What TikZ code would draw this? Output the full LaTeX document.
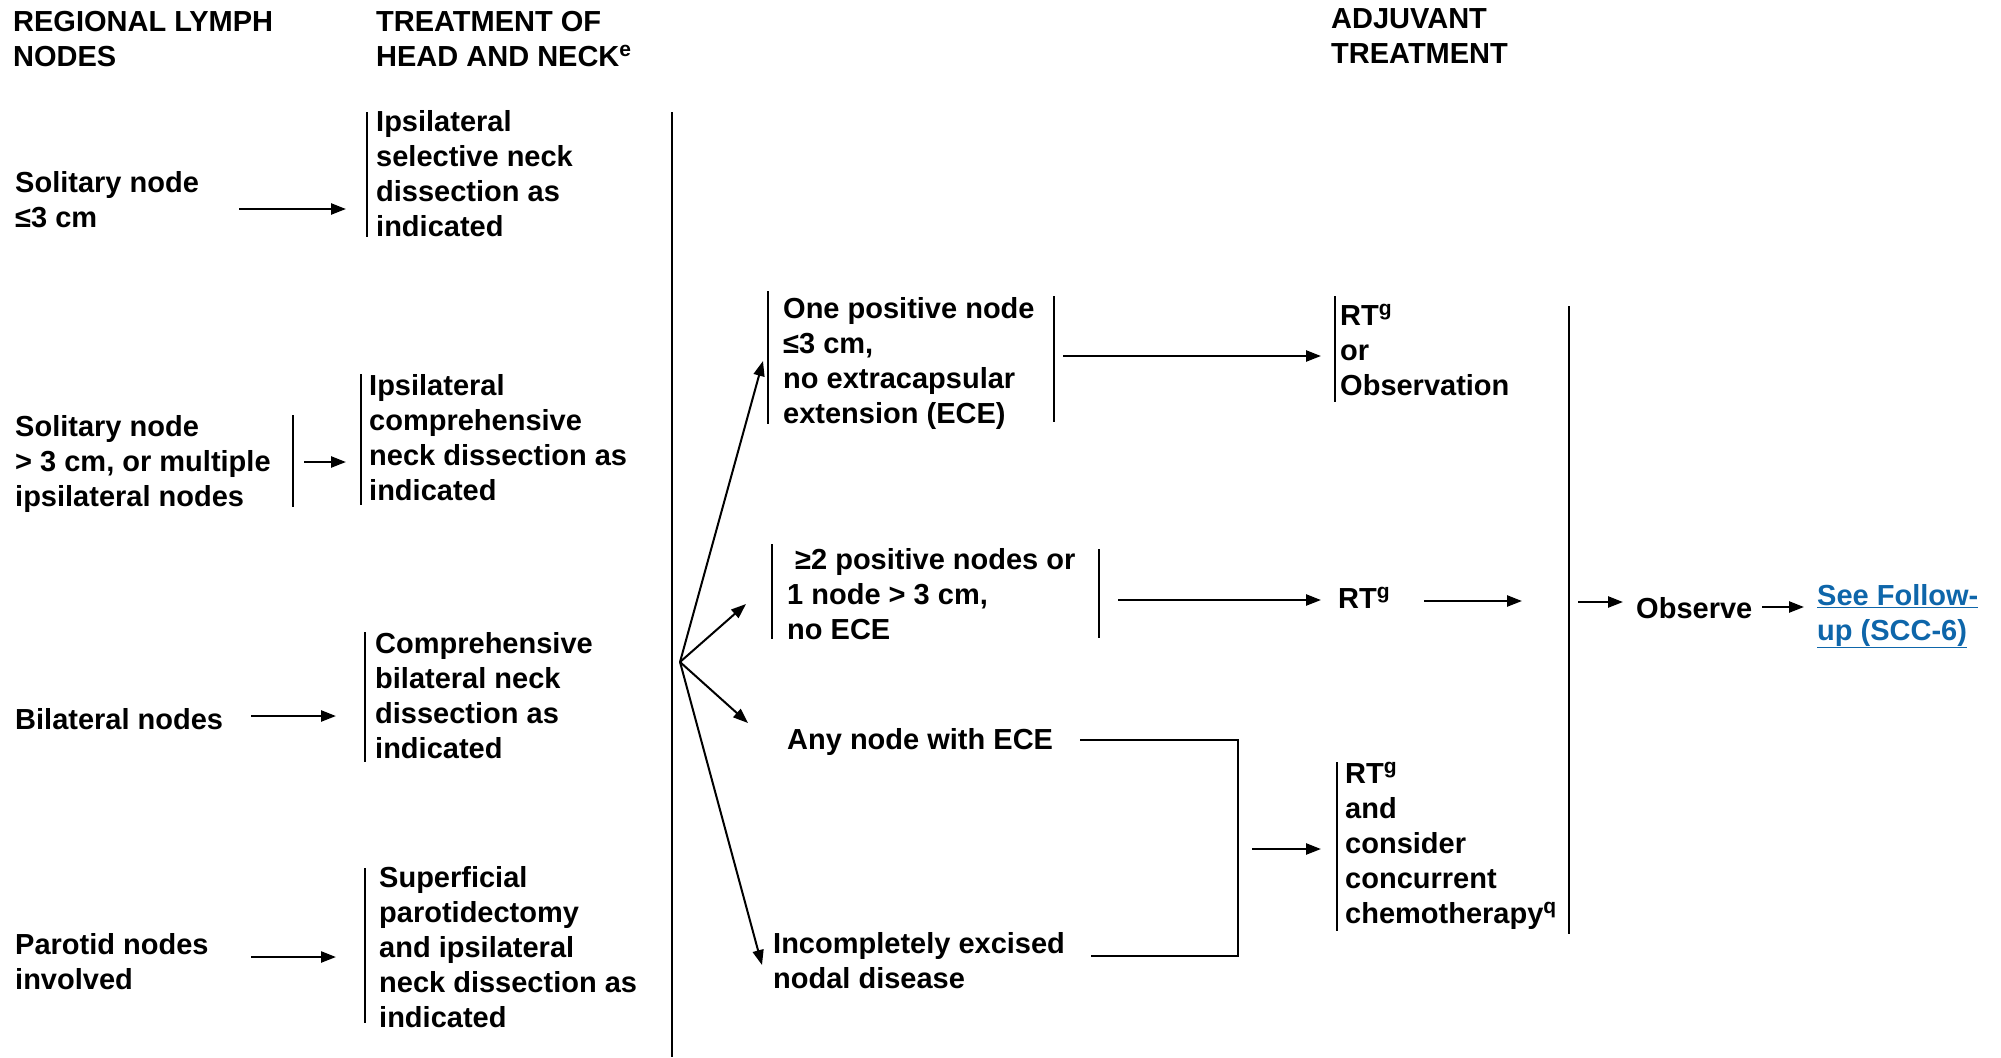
\documentclass[tikz,border=0pt]{standalone}
\usepackage{fontspec}
\setmainfont{Liberation Sans}
\usetikzlibrary{arrows.meta}
\definecolor{linkblue}{RGB}{14,102,170}
\newcommand\fsz{\fontsize{29}{35}\selectfont}
\newcommand\supr[1]{\raisebox{0.36em}{\fontsize{21}{21}\selectfont #1}}
\begin{document}
\begin{tikzpicture}[x=1pt,y=-1pt,
  txt/.style={anchor=north west, inner sep=0pt, align=left, yshift=-4pt, font=\fsz\bfseries, execute at begin node=\strut},
  barline/.style={line width=2.5pt},
  arr/.style={line width=2.4pt, -{Triangle[length=15pt,width=11pt]}},
  fanarr/.style={line width=2pt, -{Triangle[length=15pt,width=11pt]}},
  link/.style={txt, text=linkblue}]
\useasboundingbox[fill=white] (0,0) rectangle (2001,1057);

% headers
\node[txt] (h1) at (13,7) {REGIONAL LYMPH\\NODES};
\node[txt] (h2) at (376,7) {TREATMENT OF\\HEAD AND NECK\supr{e}};
\node[txt] (h3) at (1331,4) {ADJUVANT\\TREATMENT};

% left column
\node[txt] (s1) at (15,167) {Solitary node\\≤3 cm};
\node[txt] (t1) at (376,106) {Ipsilateral\\selective neck\\dissection as\\indicated};
\node[txt] (s2) at (15,411) {Solitary node\\> 3 cm, or multiple\\ipsilateral nodes};
\node[txt] (t2) at (369,370) {Ipsilateral\\comprehensive\\neck dissection as\\indicated};
\node[txt] (s3) at (15,701) {Bilateral nodes};
\node[txt] (t3) at (375,628) {Comprehensive\\bilateral neck\\dissection as\\indicated};
\node[txt] (s4) at (15,929) {Parotid nodes\\involved};
\node[txt] (t4) at (379,862) {Superficial\\parotidectomy\\and ipsilateral\\neck dissection as\\indicated};

% middle column
\node[txt] (m1) at (783,293) {One positive node\\≤3 cm,\\no extracapsular\\extension (ECE)};
\node[txt] (m2) at (787,544) {\hspace*{8pt}≥2 positive nodes or\\1 node > 3 cm,\\no ECE};
\node[txt] (m3) at (787,721) {Any node with ECE};
\node[txt] (m4) at (773,928) {Incompletely excised\\nodal disease};

% adjuvant column
\node[txt] (a1) at (1340,300) {RT\supr{g}\\or\\Observation};
\node[txt] (a2) at (1338,580) {RT\supr{g}};
\node[txt] (a3) at (1345,758) {RT\supr{g}\\and\\consider\\concurrent\\chemotherapy\supr{q}};
\node[txt] (obs) at (1636,590) {Observe};
\node[link] (lk) at (1817,580) {\underline{See Follow-}\\\underline{up (SCC-6)}};

% bars
\draw[barline] (367,112) -- (367,237);
\draw[barline] (293,415) -- (293,507);
\draw[barline] (361,374) -- (361,505);
\draw[barline] (365,632) -- (365,762);
\draw[barline] (365,868) -- (365,1023);
\draw[barline] (672,112) -- (672,1057);
\draw[barline] (768,291) -- (768,424);
\draw[barline] (1054,296) -- (1054,422);
\draw[barline] (772,544) -- (772,639);
\draw[barline] (1099,549) -- (1099,638);
\draw[barline] (1335,296) -- (1335,402);
\draw[barline] (1337,762) -- (1337,931);
\draw[barline] (1569,306) -- (1569,934);

% arrow end points
\coordinate (s1o) at (239,209); \coordinate (t1i) at (346,209);
\coordinate (s2o) at (304,462); \coordinate (t2i) at (346,462);
\coordinate (s3o) at (251,716); \coordinate (t3i) at (336,716);
\coordinate (s4o) at (251,957); \coordinate (t4i) at (336,957);
\coordinate (m1o) at (1063,356); \coordinate (a1i) at (1321,356);
\coordinate (m2o) at (1118,600); \coordinate (a2i) at (1321,600);
\coordinate (a2o) at (1424,601); \coordinate (a2e) at (1522,601);
\coordinate (jo) at (1252,849); \coordinate (a3i) at (1321,849);
\coordinate (ro) at (1578,602); \coordinate (obsi) at (1623,602);
\coordinate (obso) at (1762,607); \coordinate (lki) at (1804,607);
\coordinate (fan) at (680,662);
\coordinate (f1) at (763,361); \coordinate (f2) at (746,604);
\coordinate (f3) at (748,723); \coordinate (f4) at (762,965);
\coordinate (e1) at (1080,740); \coordinate (e2) at (1238,740);
\coordinate (e3) at (1238,956); \coordinate (e4) at (1091,956);

\draw[arr] (s1o) -- (t1i);
\draw[arr] (s2o) -- (t2i);
\draw[arr] (s3o) -- (t3i);
\draw[arr] (s4o) -- (t4i);
\draw[arr] (m1o) -- (a1i);
\draw[arr] (m2o) -- (a2i);
\draw[arr] (a2o) -- (a2e);
\draw[arr] (jo) -- (a3i);
\draw[arr] (ro) -- (obsi);
\draw[arr] (obso) -- (lki);
\draw[fanarr] (fan) -- (f1);
\draw[fanarr] (fan) -- (f2);
\draw[fanarr] (fan) -- (f3);
\draw[fanarr] (fan) -- (f4);
\draw[barline] (e1) -- (e2) -- (e3) -- (e4);
\end{tikzpicture}
\end{document}
